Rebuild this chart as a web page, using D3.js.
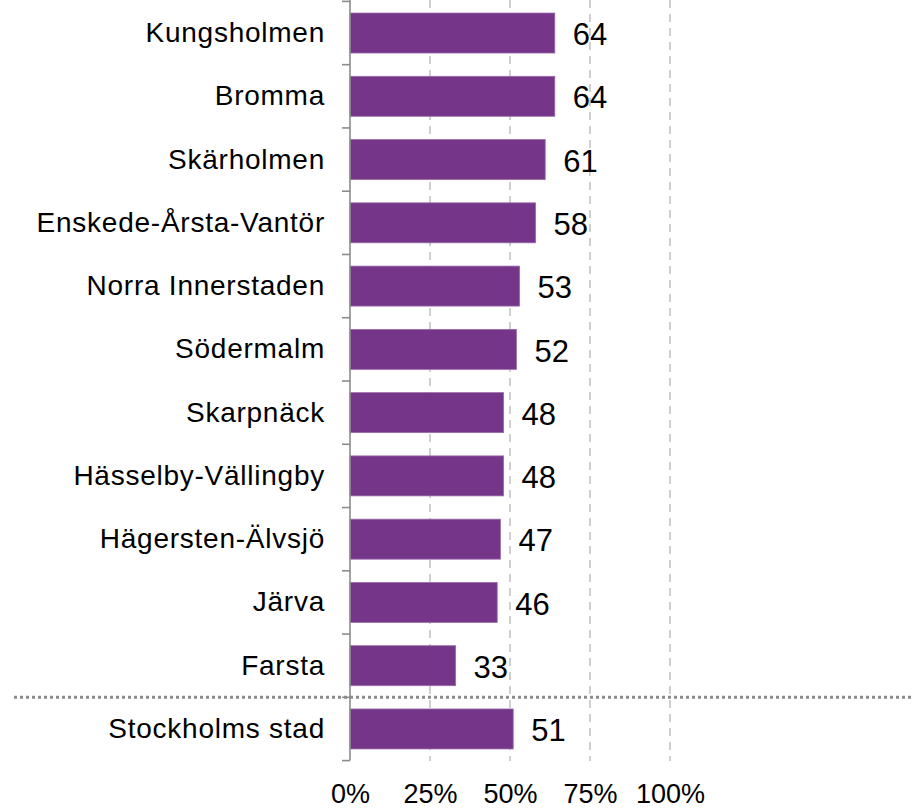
<!DOCTYPE html>
<html>
<head>
<meta charset="utf-8">
<script src="https://cdn.jsdelivr.net/npm/d3@7"></script>
<style>
  html, body { margin: 0; padding: 0; background: #fff; }
  svg { display: block; }
</style>
</head>
<body>
<svg id="chart" width="914" height="809"></svg>
<script>
// District values (percent)
const categories = [
  "Kungsholmen", "Bromma", "Skärholmen", "Enskede-Årsta-Vantör",
  "Norra Innerstaden", "Södermalm", "Skarpnäck", "Hässelby-Vällingby",
  "Hägersten-Älvsjö", "Järva", "Farsta", "Stockholms stad"
];
const values = [64, 64, 61, 58, 53, 52, 48, 48, 47, 46, 33, 51];
const xTicks = [0, 25, 50, 75, 100];

const svg = d3.select("#chart");
const font = "'Liberation Sans', Arial, sans-serif";

const x = d3.scaleLinear().domain([0, 100]).range([350, 670]);
const y = d3.scaleBand().domain(categories).range([1.4, 760.6]).paddingInner(0.368).paddingOuter(0.184);

// dashed vertical gridlines
svg.append("g")
  .selectAll("line")
  .data(xTicks.filter(d => d > 0))
  .join("line")
  .attr("x1", d => x(d)).attr("x2", d => x(d))
  .attr("y1", 0).attr("y2", 761)
  .attr("stroke", "#c4c4c4")
  .attr("stroke-width", 1.6)
  .attr("stroke-dasharray", "8,6");

// bars
svg.append("g")
  .selectAll("rect")
  .data(categories)
  .join("rect")
  .attr("x", x(0))
  .attr("y", d => y(d))
  .attr("width", (d, i) => x(values[i]) - x(0))
  .attr("height", y.bandwidth())
  .attr("fill", "#75368a")
  .attr("stroke", "#9a6aaa")
  .attr("stroke-width", 0.8);

// value labels
svg.append("g")
  .selectAll("text")
  .data(categories)
  .join("text")
  .attr("x", (d, i) => x(values[i]) + 18)
  .attr("y", d => y(d) + y.bandwidth() / 2 + 1)
  .attr("dy", "0.36em")
  .attr("font-family", font)
  .attr("font-size", 31)
  .attr("fill", "#000")
  .text((d, i) => values[i]);

// separator between districts and city total
const sepY = y(categories[categories.length - 1]) - y.step() * y.paddingInner() / 2;
svg.append("line")
  .attr("x1", 14).attr("x2", 914)
  .attr("y1", sepY).attr("y2", sepY)
  .attr("stroke", "#8a8a8a")
  .attr("stroke-width", 3)
  .attr("stroke-dasharray", "3,3");

// category axis
const yAxis = d3.axisLeft(y).tickSize(0).tickPadding(25);
const gy = svg.append("g").attr("transform", `translate(${x(0)},0)`).call(yAxis);
gy.select(".domain").remove();
gy.selectAll("text")
  .attr("font-family", font)
  .attr("font-size", 28)
  .attr("letter-spacing", "0.75px")
  .attr("fill", "#000");

// axis line with ticks at band boundaries
const bounds = d3.range(categories.length + 1).map(i => y.range()[0] + i * y.step());
svg.append("line")
  .attr("x1", x(0)).attr("x2", x(0))
  .attr("y1", 0).attr("y2", bounds[bounds.length - 1])
  .attr("stroke", "#8c8c8c").attr("stroke-width", 1.6);
svg.append("g")
  .selectAll("line")
  .data(bounds)
  .join("line")
  .attr("x1", x(0) - 8).attr("x2", x(0))
  .attr("y1", d => d).attr("y2", d => d)
  .attr("stroke", "#8c8c8c").attr("stroke-width", 1.6);

// percent axis
const xAxis = d3.axisBottom(x).tickValues(xTicks).tickFormat(d => d + "%").tickSize(0).tickPadding(0);
const gx = svg.append("g").attr("transform", "translate(0,803)").call(xAxis);
gx.select(".domain").remove();
gx.selectAll("text")
  .attr("dy", 0)
  .attr("font-family", font)
  .attr("font-size", 27)
  .attr("fill", "#000");
</script>
</body>
</html>
